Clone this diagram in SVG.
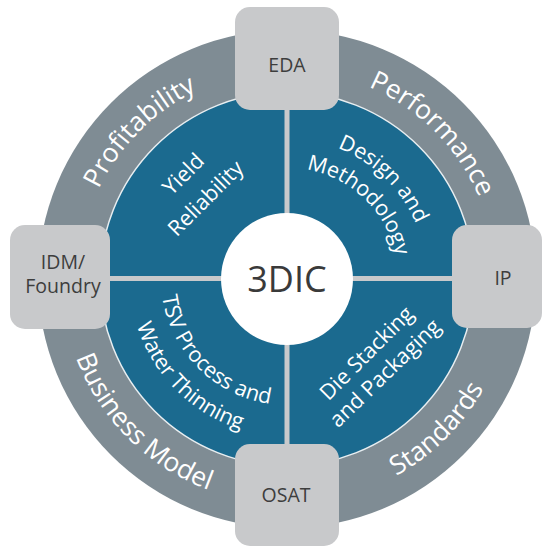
<svg xmlns="http://www.w3.org/2000/svg" width="544" height="546" viewBox="0 0 544 546">
<style>
.ringtxt{font-family:"Open Sans","Noto Sans",sans-serif;font-size:26.5px;fill:#ffffff;}
.intxt{font-family:"Open Sans","Noto Sans",sans-serif;font-size:21.5px;fill:#ffffff;}
.boxtxt{font-family:"Open Sans","Noto Sans",sans-serif;font-size:19.5px;fill:#3d3d3d;text-anchor:middle;}
.box{fill:#c8c9cb;}
.conn{stroke:#c8c9cb;stroke-width:5;fill:none;}
</style>
<defs>
<path id="pProf" d="M126.9,413.3 A209,209 0 0 1 421.3,118.9"/>
<path id="pPerf" d="M152.7,118.9 A209,209 0 0 1 447.1,413.3"/>
<path id="pBus" d="M114.6,134.4 A225,225 0 0 0 431.6,451.4"/>
<path id="pStd" d="M142.4,451.4 A225,225 0 0 0 459.4,134.4"/>
<path id="pDes" d="M195.1,173.3 A140,140 0 0 1 395.8,367.1"/>
<path id="pMeth" d="M214.2,195.2 A111,111 0 0 1 373.3,348.9"/>
<path id="pTSV" d="M190.5,198 A126,126 0 0 0 368,375.5"/>
<path id="pWat" d="M166.7,178.1 A157,157 0 0 0 387.9,399.3"/>
</defs>
<rect width="544" height="546" fill="#ffffff"/>
<g id="ring">
<circle cx="287" cy="279" r="249" fill="#7f8c94"/>
<text class="ringtxt"><textPath href="#pProf" startOffset="50%" text-anchor="middle">Profitability</textPath></text>
<text class="ringtxt"><textPath href="#pPerf" startOffset="50%" text-anchor="middle">Performance</textPath></text>
<text class="ringtxt"><textPath href="#pBus" startOffset="50%" text-anchor="middle">Business Model</textPath></text>
<text class="ringtxt"><textPath href="#pStd" startOffset="50%" text-anchor="middle">Standards</textPath></text>
</g>
<g id="quadrants">
<circle cx="287" cy="279" r="187" fill="#1b6a8f" stroke="#e8eef1" stroke-width="1.5"/>
</g>
<g id="connectors">
<line class="conn" x1="287" y1="108" x2="287" y2="446"/>
<line class="conn" x1="108" y1="278.5" x2="454" y2="278.5"/>
</g>
<g id="q-yield">
<text class="intxt" text-anchor="middle" transform="translate(188.6,179.3) rotate(-45)">Yield</text>
<text class="intxt" text-anchor="middle" transform="translate(210.8,203.5) rotate(-45)">Reliability</text>
</g>
<g id="q-design">
<text class="intxt"><textPath href="#pDes" startOffset="50%" text-anchor="middle">Design and</textPath></text>
<text class="intxt"><textPath href="#pMeth" startOffset="50%" text-anchor="middle">Methodology</textPath></text>
</g>
<g id="q-tsv">
<text class="intxt"><textPath href="#pTSV" startOffset="50%" text-anchor="middle">TSV Process and</textPath></text>
<text class="intxt"><textPath href="#pWat" startOffset="50%" text-anchor="middle">Water Thinning</textPath></text>
</g>
<g id="q-die">
<text class="intxt" text-anchor="middle" transform="translate(371.7,358.3) rotate(-45)">Die Stacking</text>
<text class="intxt" text-anchor="middle" transform="translate(390,378.3) rotate(-44)">and Packaging</text>
</g>
<g id="center">
<circle cx="287" cy="279" r="66" fill="#ffffff"/>
<text x="287" y="292" font-family="Open Sans, Noto Sans, sans-serif" font-size="36" fill="#3a3a3a" text-anchor="middle">3DIC</text>
</g>
<g id="eda">
<rect class="box" x="235" y="7" width="104" height="103" rx="15"/>
<text class="boxtxt" x="287" y="72">EDA</text>
</g>
<g id="idm">
<rect class="box" x="10" y="225" width="100" height="104" rx="15"/>
<text class="boxtxt" x="63" y="269">IDM/</text>
<text class="boxtxt" x="63" y="292.5">Foundry</text>
</g>
<g id="ip">
<rect class="box" x="452" y="225" width="90" height="103" rx="15"/>
<text class="boxtxt" x="503" y="285">IP</text>
</g>
<g id="osat">
<rect class="box" x="235" y="444" width="104" height="102" rx="15"/>
<text class="boxtxt" x="286" y="502">OSAT</text>
</g>
</svg>
